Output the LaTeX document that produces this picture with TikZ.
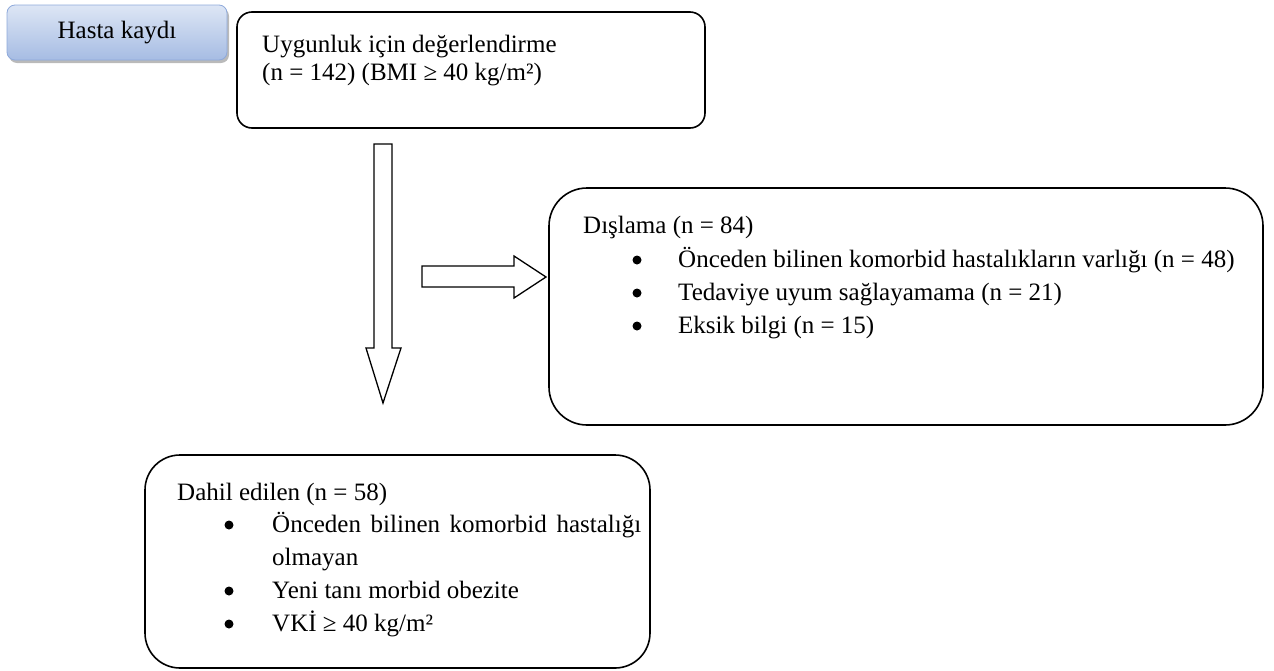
\documentclass[tikz,border=0pt]{standalone}
\usepackage{fontspec}
\setmainfont{Liberation Serif}
\usetikzlibrary{shadows}
\definecolor{tagtop}{HTML}{DDE6F5}
\definecolor{tagbottom}{HTML}{A6BCE3}
\definecolor{tagline}{HTML}{8EA9DB}
\tikzset{box/.style={draw, line width=1.6pt, rounded corners=#1, inner sep=0pt}}
\tikzset{box/.default=15pt}
\tikzset{txt/.style={anchor=base west, inner sep=0pt, font=\fontsize{25}{29}\selectfont}}
\tikzset{dot/.style={circle, fill, inner sep=0pt, minimum size=9pt}}
\tikzset{blockarrow/.style={draw, line width=1.3pt, fill=white, line join=miter}}
\tikzset{tag/.style={draw=tagline, line width=0.8pt, rounded corners=8pt, top color=tagtop, bottom color=tagbottom, drop shadow={shadow xshift=2pt, shadow yshift=-3pt, opacity=0.45, fill=black!60}, font=\fontsize{25}{29}\selectfont}}

\begin{document}
\begin{tikzpicture}[x=1pt, y=-1pt]
            \useasboundingbox (0,0) rectangle (1274,670);
            \node[tag, minimum width=220pt, minimum height=55pt] (kayit) at (117,32.5) {Hasta kaydı};
            \node[box, minimum width=468pt, minimum height=116pt] (uygun) at (471,70) {};
            \node[txt] (uygun1) at (262,52) {Uygunluk için değerlendirme};
            \node[txt] (uygun2) at (262,80) {(n = 142) (BMI ≥ 40 kg/m²)};
            \draw[blockarrow] (374,144) -- (392,144) -- (392,348) -- (401,348) -- (383,403) -- (366,348) -- (374,348) -- cycle;
            \draw[blockarrow] (422,266) -- (514,266) -- (514,256) -- (546,277) -- (514,298) -- (514,287) -- (422,287) -- cycle;
            \node[box=38pt, minimum width=714pt, minimum height=237pt] (disla) at (906,306.5) {};
            \node[txt] (disla0) at (583,233) {Dışlama (n = 84)};
            \node[txt] (disla1) at (678,267) {Önceden bilinen komorbid hastalıkların varlığı (n = 48)};
            \node[txt] (disla2) at (678,300) {Tedaviye uyum sağlayamama (n = 21)};
            \node[txt] (disla3) at (678,333) {Eksik bilgi (n = 15)};
            \foreach \y [count=\i] in {260,293,326} {
                \node[dot] (dislad\i) at (637,\y) {};
            }
            \node[box=35pt, minimum width=505pt, minimum height=213pt] (dahil) at (397.5,561.5) {};
            \node[txt] (dahil0) at (177,500) {Dahil edilen (n = 58)};
            \node[txt] (dahil1) at (272,532) {\makebox[369pt][s]{Önceden bilinen komorbid hastalığı}};
            \node[txt] (dahil2) at (272,565) {olmayan};
            \node[txt] (dahil3) at (272,598) {Yeni tanı morbid obezite};
            \node[txt] (dahil4) at (272,631) {VKİ ≥ 40 kg/m²};
            \foreach \y [count=\i] in {525,591,624} {
                \node[dot] (dahild\i) at (229,\y) {};
            }
        \end{tikzpicture}
\end{document}
